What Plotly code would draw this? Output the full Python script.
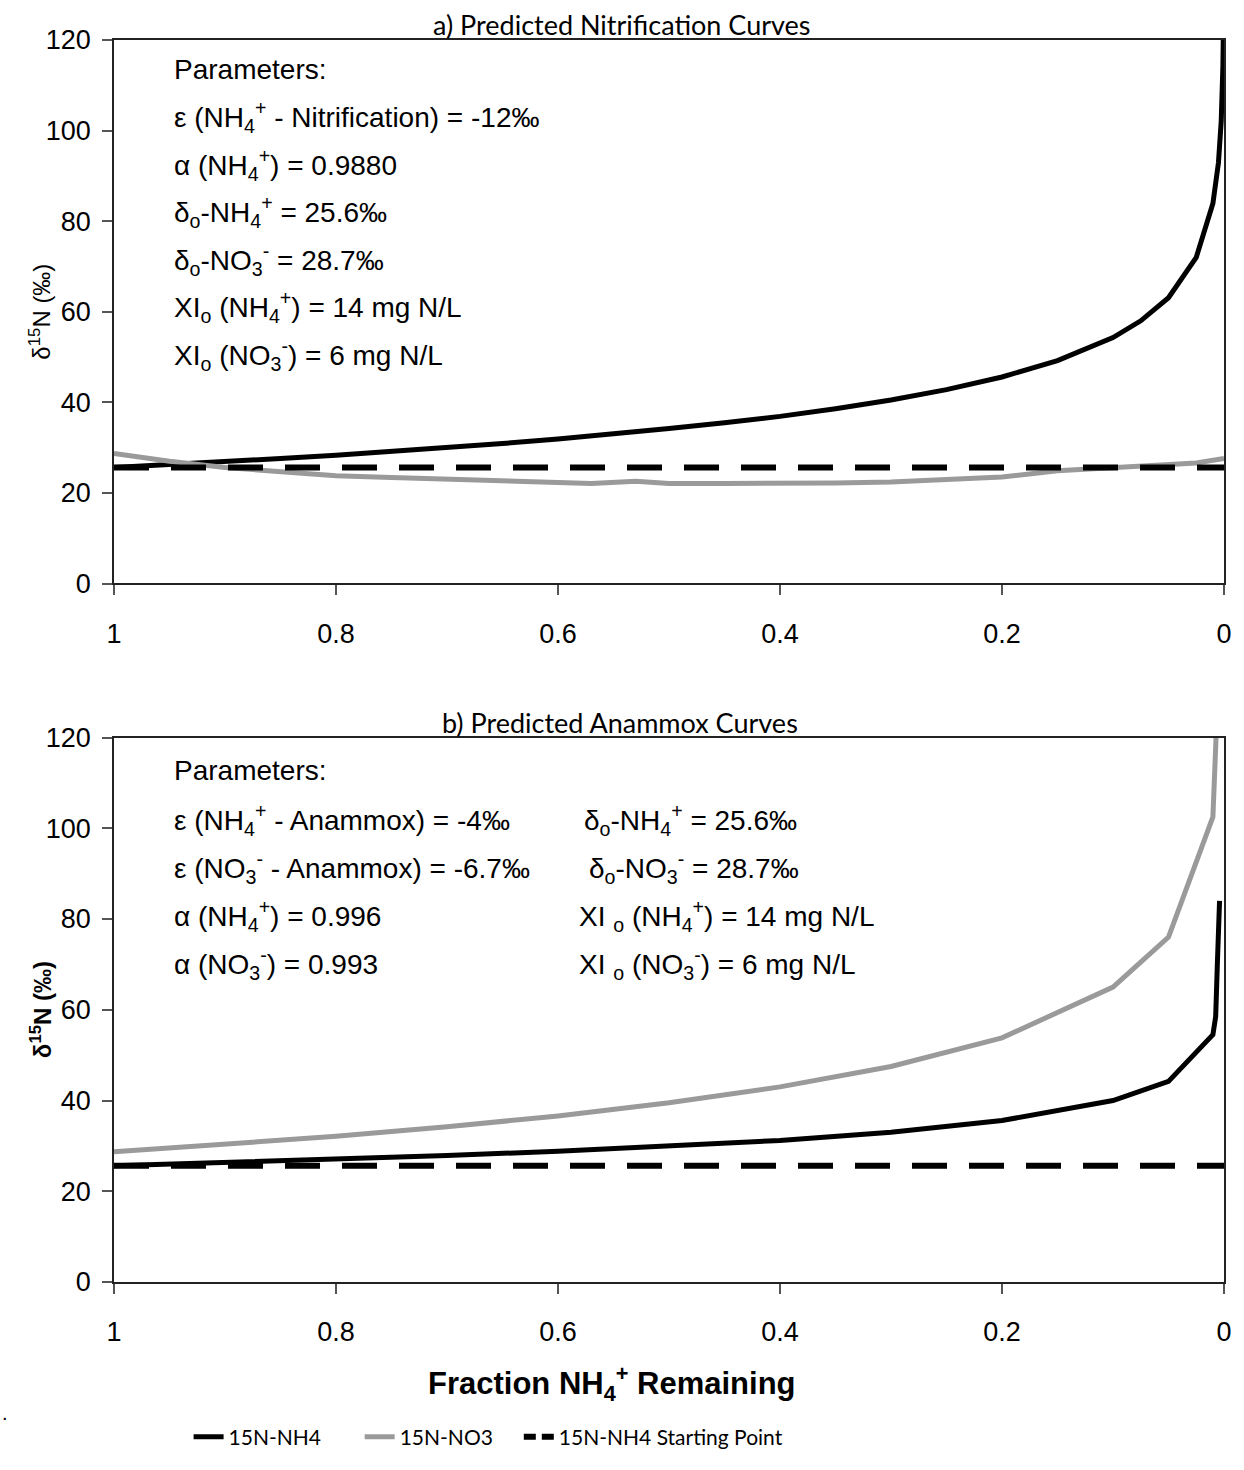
import plotly.graph_objects as go

# ---- data -------------------------------------------------------------
# a) nitrification: fraction of NH4+ remaining vs delta15N (permil)
f_nit_nh4 = [1, 0.95, 0.9, 0.85, 0.8, 0.75, 0.7, 0.65, 0.6, 0.55, 0.5, 0.45, 0.4,
             0.35, 0.3, 0.25, 0.2, 0.15, 0.1, 0.075, 0.05, 0.025, 0.01, 0.005,
             0.0025, 0.001, 0.0005]
d15n_nit_nh4 = [25.6, 26.2, 26.9, 27.6, 28.3, 29.1, 30.0, 30.9, 31.9, 33.0, 34.2,
                35.5, 36.9, 38.6, 40.5, 42.8, 45.6, 49.2, 54.3, 58.0, 63.1, 72.0,
                83.9, 92.9, 102.1, 114.2, 123.6]

f_nit_no3 = [1, 0.95, 0.9, 0.85, 0.8, 0.75, 0.7, 0.65, 0.6, 0.57, 0.53, 0.5, 0.45,
             0.4, 0.35, 0.3, 0.25, 0.2, 0.15, 0.1, 0.05, 0.025, 0]
d15n_nit_no3 = [28.7, 27.0, 25.6, 24.6, 23.8, 23.4, 23.0, 22.5, 22.3, 22.1, 22.6,
                22.1, 22.1, 22.1, 22.2, 22.4, 22.9, 23.5, 24.9, 25.5, 26.1, 26.6, 27.6]

# b) anammox
f_ana_nh4 = [1, 0.9, 0.8, 0.7, 0.6, 0.5, 0.4, 0.3, 0.2, 0.1, 0.05, 0.01, 0.0075,
             0.006, 0.004]
d15n_ana_nh4 = [25.6, 26.3, 27.0, 27.9, 28.8, 29.9, 31.2, 33.0, 35.6, 40.0, 44.2,
                54.5, 58.5, 70.0, 84.0]

f_ana_no3 = [1, 0.9, 0.8, 0.7, 0.6, 0.5, 0.4, 0.3, 0.2, 0.1, 0.05, 0.01, 0.007]
d15n_ana_no3 = [28.7, 30.3, 32.1, 34.2, 36.6, 39.5, 43.0, 47.5, 53.8, 65.0, 76.0,
                102.5, 121.0]

# starting point of NH4+ (delta_o)
f_start = [1, 0]
d15n_start = [25.6, 25.6]

x_ticks = [1, 0.8, 0.6, 0.4, 0.2, 0]
x_tick_text = ["1", "0.8", "0.6", "0.4", "0.2", "0"]
y_ticks = [0, 20, 40, 60, 80, 100, 120]

# ---- page geometry (pixels) -------------------------------------------
W, H = 1244, 1470
L, R, T, B = 114, 14, 40, 180


def px(x):
    return (x - L) / (W - L - R)


def py(y):
    return (H - B - y) / (H - T - B)


ARIAL = "Liberation Sans, Arial, sans-serif"
CAL = "Lato, Carlito, Calibri, sans-serif"
BLACK = "#000000"
GREY = "#9a9a9a"
DASH = "35px,22px"

fig = go.Figure()

# panel a
fig.add_trace(go.Scatter(x=f_nit_nh4, y=d15n_nit_nh4, mode="lines",
                         line=dict(color=BLACK, width=5), xaxis="x", yaxis="y",
                         showlegend=False, name="15N-NH4"))
fig.add_trace(go.Scatter(x=f_nit_no3, y=d15n_nit_no3, mode="lines",
                         line=dict(color=GREY, width=5), xaxis="x", yaxis="y",
                         showlegend=False, name="15N-NO3"))
fig.add_trace(go.Scatter(x=f_start, y=d15n_start, mode="lines",
                         line=dict(color=BLACK, width=6, dash=DASH), xaxis="x", yaxis="y",
                         showlegend=False, name="15N-NH4 Starting Point"))

# panel b (the two solid curves carry their own legend boxes)
fig.add_trace(go.Scatter(x=f_ana_nh4, y=d15n_ana_nh4, mode="lines",
                         line=dict(color=BLACK, width=5), xaxis="x2", yaxis="y2",
                         name="15N-NH4", legend="legend"))
fig.add_trace(go.Scatter(x=f_ana_no3, y=d15n_ana_no3, mode="lines",
                         line=dict(color=GREY, width=5), xaxis="x2", yaxis="y2",
                         name="15N-NO3", legend="legend2"))
fig.add_trace(go.Scatter(x=f_start, y=d15n_start, mode="lines",
                         line=dict(color=BLACK, width=6, dash=DASH),
                         xaxis="x2", yaxis="y2", showlegend=False,
                         name="15N-NH4 Starting Point"))
# legend key for the dashed series, with a shorter dash so two dashes fit the key
fig.add_trace(go.Scatter(x=[None], y=[None], mode="lines",
                         line=dict(color=BLACK, width=6, dash="12px,6px"),
                         xaxis="x2", yaxis="y2",
                         name="15N-NH4 Starting Point", legend="legend3"))

xaxis_common = dict(range=[1, 0], tickvals=x_ticks, ticktext=x_tick_text,
                    showgrid=False, zeroline=False, showline=True, linecolor="#222",
                    linewidth=1.5, mirror=True, ticks="outside", ticklen=10,
                    tickcolor="#555", tickwidth=1.5, ticklabelstandoff=15,
                    tickfont=dict(family=ARIAL, size=27, color=BLACK))
yaxis_common = dict(range=[0, 120], tickvals=y_ticks, showgrid=False, zeroline=False,
                    showline=True, linecolor="#222", linewidth=1.5, mirror=True,
                    ticks="outside", ticklen=10, tickcolor="#555", tickwidth=1.5,
                    ticklabelstandoff=6,
                    tickfont=dict(family=ARIAL, size=27, color=BLACK))

legend_common = dict(orientation="h", xanchor="left", yanchor="middle",
                     y=py(1446), font=dict(family=CAL, size=21, color=BLACK),
                     bgcolor="rgba(0,0,0,0)")

fig.update_layout(
    width=W, height=H,
    margin=dict(l=L, r=R, t=T, b=B),
    paper_bgcolor="white", plot_bgcolor="white",
    xaxis=dict(domain=[0, 1], anchor="y", **xaxis_common),
    yaxis=dict(domain=[py(587), 1], anchor="x", **yaxis_common),
    xaxis2=dict(domain=[0, 1], anchor="y2", **xaxis_common),
    yaxis2=dict(domain=[0, py(742)], anchor="x2", **yaxis_common),
    legend=dict(x=px(189), **legend_common),
    legend2=dict(x=px(361), **legend_common),
    legend3=dict(x=px(521), **legend_common),
)

ann = []


def text(x, y, s, size=28, family=ARIAL, xanchor="left", bold=False, angle=0):
    if bold:
        s = "<b>" + s + "</b>"
    ann.append(dict(x=px(x), y=py(y), xref="paper", yref="paper", text=s,
                    showarrow=False, xanchor=xanchor, yanchor="middle",
                    textangle=angle, font=dict(family=family, size=size, color=BLACK)))


NH4 = "NH<sub>4</sub><sup>+</sup>"
NO3 = "NO<sub>3</sub><sup>-</sup>"

# titles
text(625, 24, "a) Predicted Nitrification Curves", size=27, family=CAL, xanchor="center")
text(623, 727, "b) Predicted Anammox Curves", size=27, family=CAL, xanchor="center")

# axis titles
text(40, 313, "δ<sup>15</sup>N (‰)", size=24, xanchor="center", angle=-90)
text(40, 1016, "δ<sup>15</sup>N (‰)", size=24, xanchor="center", angle=-90, bold=True)
text(615, 1392, "Fraction " + NH4 + " Remaining", size=31, xanchor="center", bold=True)
text(4, 1422, ".", size=20, xanchor="center")

# panel a parameters
rows_a = ["Parameters:",
          "ε (" + NH4 + " - Nitrification) = -12‰",
          "α (" + NH4 + ") = 0.9880",
          "δ<sub>o</sub>-" + NH4 + " = 25.6‰",
          "δ<sub>o</sub>-" + NO3 + " = 28.7‰",
          "XI<sub>o</sub> (" + NH4 + ") = 14 mg N/L",
          "XI<sub>o</sub> (" + NO3 + ") = 6 mg N/L"]
for i, s in enumerate(rows_a):
    text(172, 70 + i * 47.8, s)

# panel b parameters
text(172, 775, "Parameters:")
left_b = ["ε (" + NH4 + " - Anammox) = -4‰",
          "ε (" + NO3 + " - Anammox) = -6.7‰",
          "α (" + NH4 + ") = 0.996",
          "α (" + NO3 + ") = 0.993"]
right_b = [(585, "δ<sub>o</sub>-" + NH4 + " = 25.6‰"),
           (590, "δ<sub>o</sub>-" + NO3 + " = 28.7‰"),
           (580, "XI <sub>o</sub> (" + NH4 + ") = 14 mg N/L"),
           (580, "XI <sub>o</sub> (" + NO3 + ") = 6 mg N/L")]
for i, s in enumerate(left_b):
    text(172, 825 + i * 48.3, s)
for i, (x, s) in enumerate(right_b):
    text(x, 825 + i * 48.3, s)

fig.update_layout(annotations=ann)
fig.write_html("out.html")
